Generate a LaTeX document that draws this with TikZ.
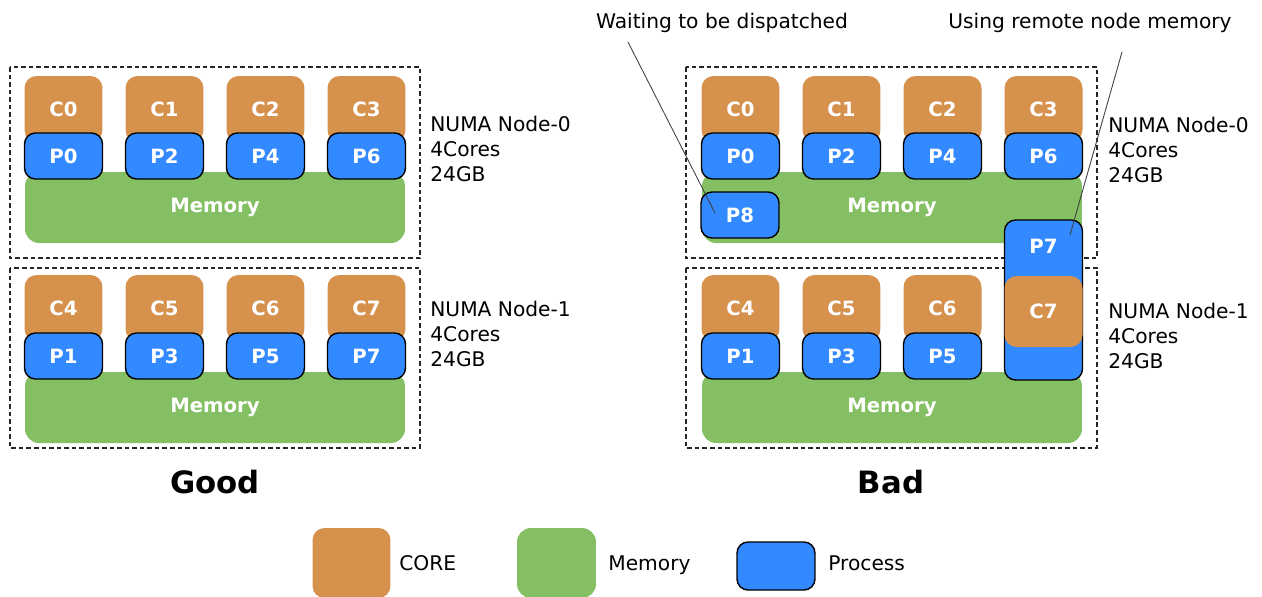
\documentclass[tikz,border=0pt]{standalone}
\usepackage{fontspec}
\setmainfont{DejaVu Sans}
\definecolor{coreC}{RGB}{214,145,77}
\definecolor{memC}{RGB}{132,191,99}
\definecolor{procC}{RGB}{51,137,255}
\tikzset{
  boxtxt/.style={text=white,font=\bfseries\fontsize{11.2}{13}\selectfont},
  core/.style={boxtxt,fill=coreC,rounded corners=0.24cm,minimum width=1.56cm,minimum height=1.32cm,inner sep=0pt},
  proc/.style={boxtxt,draw=black,line width=0.8pt,fill=procC,rounded corners=0.22cm,minimum width=1.56cm,minimum height=0.92cm,inner sep=0pt},
  mem/.style={boxtxt,fill=memC,rounded corners=0.28cm,minimum width=7.6cm,minimum height=1.42cm,inner sep=0pt},
  numabox/.style={draw=black!85,line width=0.6pt,dash pattern=on 2.6pt off 1.7pt},
  info/.style={inner sep=0pt,align=left,font=\fontsize{11.5}{14.2}\selectfont},
  title/.style={inner sep=0pt,font=\bfseries\fontsize{17.5}{20}\selectfont},
  callout/.style={draw=black!75,line width=0.5pt}
}
\begin{document}
\begin{tikzpicture}[x=0.02cm,y=-0.02cm]
\useasboundingbox (0,0) rectangle (1262,596);
% Good
\draw[numabox] (10,67) rectangle (420,258);
\draw[numabox] (10,268) rectangle (420,448);
\node[mem] (gM0) at (215,207.5) {Memory};
\node[mem] (gM1) at (215,407.5) {Memory};
\foreach \i/\c/\p in {0/0/0,1/1/2,2/2/4,3/3/6}{
  \node[core] (gC\c) at (63.5+101*\i,109) {C\c};
  \node[proc] (gP\p) at (63.5+101*\i,156) {P\p};
}
\foreach \i/\c/\p in {0/4/1,1/5/3,2/6/5,3/7/7}{
  \node[core] (gC\c) at (63.5+101*\i,308) {C\c};
  \node[proc] (gP\p) at (63.5+101*\i,356) {P\p};
}
\node[info,anchor=north west] (gN0) at (430,116) {NUMA Node-0\\4Cores\\24GB};
\node[info,anchor=north west] (gN1) at (430,301) {NUMA Node-1\\4Cores\\24GB};
\node[title,anchor=base] (good) at (215,493) {Good};
% Bad
\draw[numabox] (686,67) rectangle (1097,258);
\draw[numabox] (686,268) rectangle (1097,448);
\node[mem] (bM0) at (892,207.5) {Memory};
\node[mem] (bM1) at (892,407.5) {Memory};
\foreach \i/\c/\p in {0/0/0,1/1/2,2/2/4,3/3/6}{
  \node[core] (bC\c) at (740.5+101*\i,109) {C\c};
  \node[proc] (bP\p) at (740.5+101*\i,156) {P\p};
}
\foreach \i/\c/\p in {0/4/1,1/5/3,2/6/5}{
  \node[core] (bC\c) at (740.5+101*\i,308) {C\c};
  \node[proc] (bP\p) at (740.5+101*\i,356) {P\p};
}
\node[proc] (bP8) at (740,215) {P8};
\node[proc,minimum height=3.2cm] (bP7) at (1043.5,300) {};
\node[boxtxt] (bP7t) at (1043.5,246) {P7};
\node[core,minimum height=1.42cm] (bC7) at (1043.5,311.5) {C7};
\node[info,anchor=north west] (bN0) at (1108,117) {NUMA Node-0\\4Cores\\24GB};
\node[info,anchor=north west] (bN1) at (1108,303) {NUMA Node-1\\4Cores\\24GB};
\node[title,anchor=base] (bad) at (891,493) {Bad};
% callouts
\node[info,anchor=base] (wait) at (722,28.5) {Waiting to be dispatched};
\node[info,anchor=base] (remote) at (1090,28.5) {Using remote node memory};
\coordinate (w0) at (628,42);
\coordinate (w1) at (715,213);
\coordinate (r0) at (1122,52);
\coordinate (r1) at (1070,235);
\draw[callout] (w0) -- (w1);
\draw[callout] (r0) -- (r1);
% legend
\node[core,minimum height=1.4cm] (kCore) at (351.5,563) {};
\node[mem,minimum width=1.58cm,minimum height=1.4cm] (kMem) at (556.5,563) {};
\node[proc,minimum height=0.96cm] (kProc) at (776,566) {};
\node[info,anchor=base west] (kCoreT) at (399,570.5) {CORE};
\node[info,anchor=base west] (kMemT) at (608,570.5) {Memory};
\node[info,anchor=base west] (kProcT) at (828,570.5) {Process};
\end{tikzpicture}
\end{document}
